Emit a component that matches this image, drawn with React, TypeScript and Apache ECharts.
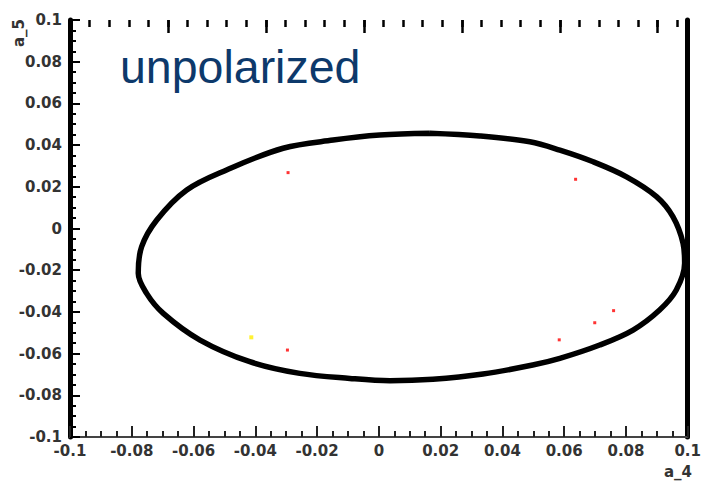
import React, { useEffect, useRef } from "react";
import * as echarts from "echarts";

// Ellipse contour (a_4, a_5), starting at the top
const curveA4 = [0.0165, 0.0327, 0.0489, 0.0586, 0.0694, 0.0802, 0.0899, 0.0952, 0.0985, 0.099, 0.0963, 0.0909, 0.0823, 0.0715, 0.0586, 0.0498, 0.0337, 0.0175, 0.0036, -0.0094, -0.0256, -0.0418, -0.0579, -0.0698, -0.0752, -0.0779, -0.0768, -0.0719, -0.0622, -0.0493, -0.031, -0.0148, 0.0003, 0.0165];
const curveA5 = [0.0457, 0.0444, 0.0416, 0.0376, 0.032, 0.0248, 0.0153, 0.0057, -0.0071, -0.0167, -0.0295, -0.0391, -0.0487, -0.0559, -0.0623, -0.0655, -0.0698, -0.0723, -0.073, -0.0719, -0.0695, -0.0639, -0.0535, -0.0407, -0.0311, -0.0215, -0.0087, 0.0041, 0.0185, 0.0281, 0.0385, 0.0424, 0.0448, 0.0457];

// Stray points
const redA4 = [-0.0294, 0.0637, 0.076, 0.0699, 0.0584, -0.0296];
const redA5 = [0.0268, 0.0236, -0.0394, -0.0452, -0.0534, -0.0583];
const yellowA4 = [-0.0413];
const yellowA5 = [-0.0522];

const titleText = "unpolarized";
const xName = "a_4";
const yName = "a_5";

const zip = (a: number[], b: number[]) => a.map((v, i) => [v, b[i]]);

const labelFont = {
  fontFamily: "DejaVu Sans",
  fontWeight: "bold" as const,
  fontSize: 15,
  color: "#333",
};

export default function App() {
  const ref = useRef<HTMLDivElement>(null);
  useEffect(() => {
    if (!ref.current) return;
    const chart = echarts.init(ref.current, null, { renderer: "svg" });
    chart.setOption({
      animation: false,
      backgroundColor: "#ffffff",
      grid: { left: 70, right: 16, top: 20, bottom: 45 },
      xAxis: [
        {
          type: "value",
          position: "bottom",
          min: -0.1,
          max: 0.1,
          interval: 0.02,
          axisLine: { show: true, onZero: false, lineStyle: { color: "#444", width: 2 } },
          axisTick: { show: true, inside: true, length: 11, lineStyle: { color: "#222", width: 2 } },
          minorTick: { show: true, splitNumber: 4, length: 6, lineStyle: { color: "#222", width: 2 } },
          axisLabel: { ...labelFont, margin: 6 },
          splitLine: { show: false },
        },
        {
          type: "value",
          position: "top",
          min: -17,
          max: 601,
          interval: 19.6,
          axisLine: { show: false, onZero: false },
          axisTick: { show: true, inside: true, length: 7, lineStyle: { color: "#000", width: 2.5 } },
          axisLabel: { show: false },
          splitLine: { show: false },
        },
        {
          type: "value",
          position: "top",
          min: -17,
          max: 601,
          interval: 98,
          axisLine: { show: false, onZero: false },
          axisTick: { show: true, inside: true, length: 13, lineStyle: { color: "#000", width: 2.5 } },
          axisLabel: { show: false },
          splitLine: { show: false },
        },
      ],
      yAxis: [
        {
          type: "value",
          position: "left",
          min: -0.1,
          max: 0.1,
          interval: 0.02,
          axisLine: { show: true, onZero: false, lineStyle: { color: "#000", width: 5 } },
          axisTick: { show: true, inside: true, length: 10, lineStyle: { color: "#000", width: 2 } },
          minorTick: { show: true, splitNumber: 4, length: 6, lineStyle: { color: "#000", width: 2 } },
          axisLabel: { ...labelFont, margin: 8 },
          splitLine: { show: false },
        },
        {
          type: "value",
          position: "right",
          min: -0.1,
          max: 0.1,
          interval: 0.02,
          axisLine: { show: true, onZero: false, lineStyle: { color: "#000", width: 5 } },
          axisTick: { show: false },
          axisLabel: { show: false },
          splitLine: { show: false },
        },
      ],
      graphic: [
        {
          type: "text",
          left: 120,
          top: 43,
          style: {
            text: titleText,
            font: '46.5px "Liberation Sans", Arial, sans-serif',
            fill: "#0d396b",
          },
        },
        {
          type: "text",
          x: 692,
          y: 472,
          style: {
            text: xName,
            font: 'bold 15px "DejaVu Sans"',
            fill: "#333",
            align: "right",
            verticalAlign: "middle",
          },
        },
        {
          type: "text",
          x: 19,
          y: 33,
          rotation: Math.PI / 2,
          style: {
            text: yName,
            font: 'bold 15px "DejaVu Sans"',
            fill: "#333",
            align: "center",
            verticalAlign: "middle",
          },
        },
      ],
      series: [
        {
          type: "line",
          xAxisIndex: 0,
          yAxisIndex: 0,
          data: zip(curveA4, curveA5),
          smooth: 0.35,
          showSymbol: false,
          symbol: "none",
          lineStyle: { color: "#000", width: 5.5 },
          z: 3,
        },
        {
          type: "scatter",
          xAxisIndex: 0,
          yAxisIndex: 0,
          data: zip(redA4, redA5),
          symbol: "rect",
          symbolSize: 3,
          itemStyle: { color: "#ff0000" },
        },
        {
          type: "scatter",
          xAxisIndex: 0,
          yAxisIndex: 0,
          data: zip(yellowA4, yellowA5),
          symbol: "rect",
          symbolSize: 4,
          itemStyle: { color: "#ffee00" },
        },
      ],
    });
    return () => chart.dispose();
  }, []);
  return (
    <div
      ref={ref}
      style={{ position: "fixed", left: 0, top: 0, width: 704, height: 482, background: "#fff" }}
    />
  );
}
